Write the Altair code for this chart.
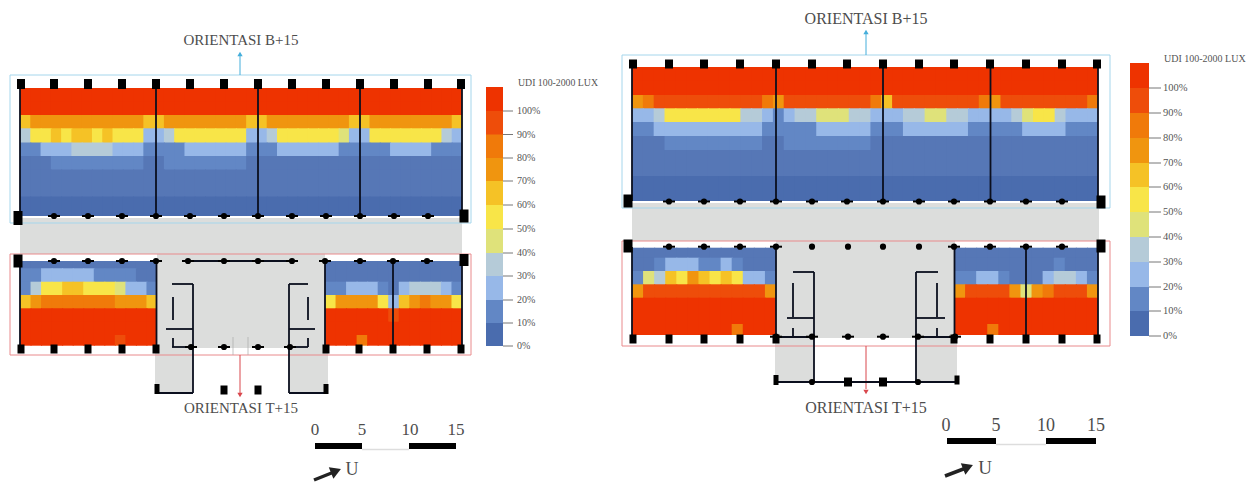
import altair as alt
import pandas as pd

# ---- colour bands (UDI classes) ----
BANDS = ["0", "m", "1", "2", "3", "4", "5", "6", "7", "8", "9", "A"]
BAND_COLORS = ["#4a6cae", "#5677b6", "#6287c5", "#97b8e8", "#b5cbd8", "#dfe27a",
               "#f8e548", "#f5c226", "#f0950f", "#f07a0a", "#ee4d0a", "#ee3300"]
LEGEND_CODES = ["A", "9", "8", "7", "6", "5", "4", "3", "2", "1", "0"]
LEGEND_LABELS = ["100%", "90%", "80%", "70%", "60%", "50%", "40%", "30%", "20%", "10%", "0%"]

# ---- heat map blocks: one string per row, one character per cell ----
A_ROWS = ["A" * 43, "A" * 43,
          "6777777777776677777777667777777766777777776",
          "3556566565552235555555223555555422555555532",
          "1122233332221111222222111222222111112222111",
          "m" * 3 + "1" * 9 + "m" * 2 + "1" * 8 + "m" * 21,
          "m" * 43, "m" * 43, "0" * 43, "0" * 43]
A_EDGES = [88, 101.5, 115, 128.3, 142.5, 156, 169.5, 183, 196.5, 210, 216]
B_ROWS = ["m" * 13, "1122222111 1mm".replace(" ", ""), "1355665554221", "6788888887776",
          "A" * 13, "A" * 13, "AAAAAAAAA9AAA"]
C_ROWS = ["m" * 13, "m" * 13, "11222 1m233321".replace(" ", ""), "5777752678775",
          "AAAAAA9AAAAAA", "A" * 13, "AAA8AAAAAAAAA"]
LOW_EDGES_L = [261, 268.3, 281.7, 295, 308.3, 321.7, 335, 345.7]
D_ROWS = ["A" * 43, "A" * 43,
          "7899999999998799999999869999999987999999998",
          "2235555555332123344433222334433222234553222",
          "1122222222221111122222111222222111112222111",
          "mmm111111111mm11111111" + "m" * 21,
          "m" * 43, "m" * 43, "0" * 43, "0" * 43]
D_EDGES = [67, 80.4, 95, 108.3, 122, 136, 150, 163, 176, 189, 201]
E_ROWS = ["m" * 13, "mm12221121mmmm"[:13], "1436576565221", "7999999999997",
          "A" * 13, "A" * 13, "AAAAAAAAA8AAA"]
F_ROWS = ["m" * 13, "mmmmmmmmm1mmm", "11221mmm23321", "7999974789997",
          "A" * 13, "A" * 13, "AAA8AAAAAAAAA"]
LOW_EDGES_R = [247.7, 257.7, 271, 284.3, 297.7, 311, 324, 335]

HEAT_BLOCKS = [(A_ROWS, A_EDGES, 20, 462), (B_ROWS, LOW_EDGES_L, 20, 157),
               (C_ROWS, LOW_EDGES_L, 325, 462), (D_ROWS, D_EDGES, 632, 1098),
               (E_ROWS, LOW_EDGES_R, 632, 776), (F_ROWS, LOW_EDGES_R, 954, 1098)]

# ---- legends ----
LEG_L_EDGES = [87, 111, 134.5, 158, 181, 205, 229, 253, 276, 300, 323, 346]
LEG_R_EDGES = [63, 88, 113, 138, 163, 187, 212, 237, 262, 287, 311, 336]

# ---- plan geometry ----
GRAY = [(20, 462, 218, 254), (157, 325, 254, 348), (155, 193, 348, 393), (289, 328, 348, 393),
        (632, 1099, 203, 241), (776, 955, 241, 338), (775, 814, 338, 382), (916, 957, 338, 382)]
OUTLINES = [(10, 471, 75, 223, "#a5d6ec"), (10, 471, 254, 355, "#e98a8c"),
            (622, 1110, 55, 208, "#a5d6ec"), (622, 1110, 241, 346, "#e98a8c")]
WALLS = [
    (20, 20, 85, 216), (156, 156, 85, 216), (258, 258, 85, 216), (360, 360, 85, 216), (462, 462, 85, 216),
    (20, 20, 261, 349), (156.5, 156.5, 261, 349), (325, 325, 261, 349), (393, 393, 261, 349), (462, 462, 261, 349),
    (188, 292, 261, 261), (172, 193, 284, 284), (193, 193, 284, 393), (173, 173, 297, 320),
    (166, 193, 329, 329), (173, 173, 338, 347), (172, 193, 347, 347), (155, 193, 393, 393),
    (289, 308, 284, 284), (289, 289, 284, 393), (308, 308, 297, 320), (289, 315, 329, 329),
    (308, 308, 338, 347), (289, 308, 347, 347), (289, 328, 393, 393),
    (632, 632, 62, 201), (776, 776, 62, 201), (883, 883, 62, 201), (990.5, 990.5, 62, 201), (1098, 1098, 62, 201),
    (632, 632, 247, 339), (776, 776, 247, 339), (954.5, 954.5, 247, 339), (1026, 1026, 247, 339), (1098, 1098, 247, 339),
    (775, 958, 382, 382), (814, 814, 272, 382), (793, 814, 272, 272), (793, 793, 283, 317),
    (787, 814, 318, 318), (793, 793, 328, 337), (775, 814, 337, 337),
    (916, 916, 272, 382), (916, 938, 272, 272), (937, 937, 283, 317), (916, 945, 318, 318),
    (937, 937, 328, 337), (916, 955, 337, 337),
]
PILLAR_L_X = [54, 88, 122, 156, 190, 224, 258, 292, 326, 360, 394, 428]
PILLAR_R_X = [669, 704, 740, 776, 812, 847, 883, 919, 954, 990, 1026, 1062]
# (x, y, width, height)
SQUARES = [(x, 84, 8, 10) for x in [21] + PILLAR_L_X + [461]] + \
          [(x, 349, 7, 9) for x in [21, 54, 88, 122, 156, 326, 359, 393, 427, 461]] + \
          [(x, 64, 8, 9) for x in [633] + PILLAR_R_X + [1097]] + \
          [(x, 339, 7, 9) for x in [633, 669, 704, 740, 776, 954, 990, 1026, 1062, 1097]] + \
          [(18, 218, 9, 14), (464, 216, 9, 13), (18, 261, 9, 13), (464, 260, 9, 12),
           (628, 201, 9, 13), (1101, 202, 9, 13), (628, 246, 9, 13), (1101, 246, 9, 13),
           (224, 390, 7, 9), (258, 390, 7, 9), (848, 382, 8, 9), (883, 382, 8, 9),
           (157, 389, 5, 10), (326, 389, 5, 10), (776, 380, 5, 10), (957, 380, 5, 9)]
DOTS = [(x, 216) for x in PILLAR_L_X] + \
       [(x, 261) for x in [54, 88, 122, 156, 188, 224, 258, 292, 325, 360, 393, 427]] + \
       [(x, 347) for x in [191, 224, 258, 290]] + \
       [(x, 201.5) for x in PILLAR_R_X] + \
       [(x, 246.7) for x in [669, 704, 740, 776, 812, 848, 883, 919, 954, 990, 1026, 1062]] + \
       [(x, 336.7) for x in [812, 848, 883, 918, 776, 955]] + [(812, 382), (918, 382)]
DASHES = [(x - 6, x + 6, y, y) for x, y in DOTS
          if (y in (216, 201.5, 261, 336.7, 347)) or (y == 246.7 and not 800 < x < 930)]

# ---- arrows: (x1, x2, y1, y2, colour, width) and heads (x, y, angle, colour, size) ----
LINES = [(240, 240, 75, 56, "#45aedb", 1), (240, 240, 355, 393, "#d9474d", 1),
         (866, 866, 55, 34, "#45aedb", 1), (866, 866, 346, 389, "#d9474d", 1),
         (233, 233, 337, 355, "#aaaaaa", 0.7), (248, 248, 337, 355, "#aaaaaa", 0.7),
         (315, 362, 446, 446, "#000000", 6), (362, 409, 449.5, 449.5, "#dddddd", 1.5), (409, 456, 446, 446, "#000000", 6),
         (947, 996, 441, 441, "#000000", 6), (996, 1046, 444.5, 444.5, "#dddddd", 1.5), (1046, 1096, 441, 441, "#000000", 6),
         (314, 334, 480, 472, "#222222", 3.5), (945, 966, 476, 468, "#222222", 3.5)]
HEADS = [(240, 54, 0, "#45aedb", 28), (240, 395, 180, "#d9474d", 28),
         (866, 32, 0, "#45aedb", 28), (866, 392, 180, "#d9474d", 28),
         (336, 471, 68, "#222222", 150), (968, 467, 68, "#222222", 150)]

# ---- text ----
CENTER_TEXT = [("ORIENTASI B+15", 241, 40, 15), ("ORIENTASI T+15", 241, 408, 15),
               ("ORIENTASI B+15", 866, 19, 16), ("ORIENTASI T+15", 866, 408, 16),
               ("0", 315, 430, 17), ("5", 362, 430, 17), ("10", 410, 430, 17), ("15", 456, 430, 17),
               ("0", 946, 426, 18), ("5", 996, 426, 18), ("10", 1046, 426, 18), ("15", 1096, 426, 18),
               ("U", 352, 470, 18), ("U", 985, 468, 19)]
LEFT_TITLES = [("UDI 100-2000 LUX", 518, 83, 9.8), ("UDI 100-2000 LUX", 1164, 59, 10)]

# ---- build tables ----
heat = []
for rows, edges, x0, x1 in HEAT_BLOCKS:
    n = len(rows[0])
    w = (x1 - x0) / n
    for r, row in enumerate(rows):
        for c, code in enumerate(row):
            heat.append(dict(x=x0 + c * w, x2=x0 + (c + 1) * w + (1 if c < n - 1 else 0),
                             y=edges[r], y2=edges[r + 1] + (1 if r < len(rows) - 1 else 0), code=code))
for edges, lx0, lx1 in [(LEG_L_EDGES, 486, 503), (LEG_R_EDGES, 1130, 1149)]:
    for i, code in enumerate(LEGEND_CODES):
        heat.append(dict(x=lx0, x2=lx1, y=edges[i], y2=edges[i + 1] + (1 if i < 10 else 0), code=code))
heat = pd.DataFrame(heat)

left_text = [dict(t=t, x=x, y=y, s=s) for t, x, y, s in LEFT_TITLES]
ticks = []
for edges, tx0, tx1, lx, fs in [(LEG_L_EDGES, 503, 513, 517, 10), (LEG_R_EDGES, 1149, 1161, 1163, 10.5)]:
    for label, e in zip(LEGEND_LABELS, edges[1:]):
        ticks.append(dict(x=tx0, x2=tx1, y=e, y2=e, c="#777777", w=1))
        left_text.append(dict(t=label, x=lx, y=e, s=fs))

X = alt.X("x:Q", scale=alt.Scale(domain=[8, 1247], nice=False, zero=False), axis=None)
Y = alt.Y("y:Q", scale=alt.Scale(domain=[482, 8], nice=False, zero=False), axis=None)
X2 = alt.X2("x2:Q")
Y2 = alt.Y2("y2:Q")


def tbl(rows, cols):
    return pd.DataFrame(rows, columns=cols)


gray = alt.Chart(tbl(GRAY, ["x", "x2", "y", "y2"])).mark_rect(color="#dcdddc").encode(x=X, x2=X2, y=Y, y2=Y2)
cells = alt.Chart(heat).mark_rect().encode(
    x=X, x2=X2, y=Y, y2=Y2,
    color=alt.Color("code:N", scale=alt.Scale(domain=BANDS, range=BAND_COLORS), legend=None))
outlines = alt.Chart(tbl(OUTLINES, ["x", "x2", "y", "y2", "c"])).mark_rect(fillOpacity=0, strokeWidth=1).encode(
    x=X, x2=X2, y=Y, y2=Y2, stroke=alt.Stroke("c:N", scale=None))
line_rows = pd.concat([tbl(LINES, ["x", "x2", "y", "y2", "c", "w"]), pd.DataFrame(ticks)], ignore_index=True)
lines = alt.Chart(line_rows).mark_rule().encode(
    x=X, x2=X2, y=Y, y2=Y2, color=alt.Color("c:N", scale=None), size=alt.Size("w:Q", scale=None))
walls = alt.Chart(tbl(WALLS, ["x", "x2", "y", "y2"])).mark_rule(color="#0b0f1e", strokeWidth=1.8).encode(
    x=X, x2=X2, y=Y, y2=Y2)
dashes = alt.Chart(tbl(DASHES, ["x", "x2", "y", "y2"])).mark_rule(color="#000000", strokeWidth=2).encode(
    x=X, x2=X2, y=Y, y2=Y2)
sq = tbl(SQUARES, ["cx", "cy", "w", "h"])
sq["x"], sq["x2"] = sq.cx - sq.w / 2, sq.cx + sq.w / 2
sq["y"], sq["y2"] = sq.cy - sq.h / 2, sq.cy + sq.h / 2
squares = alt.Chart(sq).mark_rect(color="#000000").encode(x=X, x2=X2, y=Y, y2=Y2)
dots = alt.Chart(tbl(DOTS, ["x", "y"])).mark_circle(color="#000000", size=38, opacity=1).encode(x=X, y=Y)
heads = alt.Chart(tbl(HEADS, ["x", "y", "a", "c", "s"])).mark_point(shape="triangle-up", filled=True, opacity=1).encode(
    x=X, y=Y, angle=alt.Angle("a:Q", scale=None),
    color=alt.Color("c:N", scale=None), size=alt.Size("s:Q", scale=None))
ctext = alt.Chart(tbl(CENTER_TEXT, ["t", "x", "y", "s"])).mark_text(
    align="center", baseline="middle", font="Liberation Serif", color="#4d4d4d").encode(
    x=X, y=Y, text="t:N", size=alt.Size("s:Q", scale=None))
ltext = alt.Chart(pd.DataFrame(left_text)).mark_text(
    align="left", baseline="middle", font="Liberation Serif", color="#555555").encode(
    x=X, y=Y, text="t:N", size=alt.Size("s:Q", scale=None))

chart = alt.layer(gray, cells, outlines, lines, walls, dashes, squares, dots, heads, ctext, ltext).resolve_scale(
    color="independent", size="independent", stroke="independent"
).properties(
    width=1239, height=474, padding=0, autosize=alt.AutoSizeParams(type="none"), background="white"
).configure_view(stroke=None)

chart.save("out.html", embed_options={"renderer": "svg", "actions": False})
